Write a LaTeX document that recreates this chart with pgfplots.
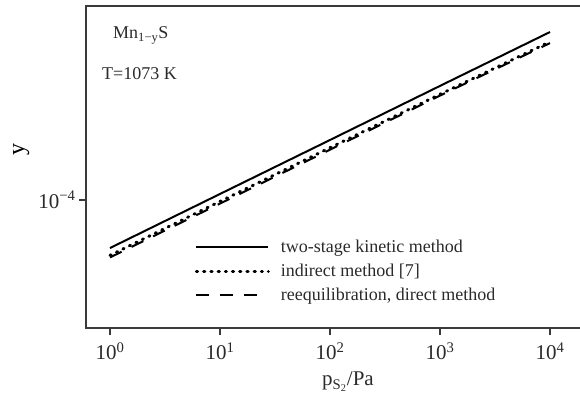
\documentclass[border=0pt]{standalone}
\usepackage{fontspec}
\setmainfont{Liberation Serif}
\usepackage{pgfplots}
\pgfplotsset{compat=1.18}

\definecolor{axisgray}{HTML}{3A3A3A}
\definecolor{textgray}{HTML}{2A2A2A}

\begin{document}
\begin{tikzpicture}
\useasboundingbox (0,0) rectangle (580pt,403pt);
\clip (0,0) rectangle (580pt,403pt);
\begin{axis}[
  at={(86pt,75pt)}, anchor=south west,
  scale only axis,
  width=499pt, height=322pt,
  xmode=log, ymode=log,
  xmin=0.605, xmax=20800,
  ymin=4.027e-5, ymax=3.97e-4,
  font=\fontsize{21}{25}\selectfont\color{textgray},
  axis line style={axisgray, line width=1.4pt},
  tick style={axisgray, line width=1.1pt, major tick length=7pt},
  tick align=outside, tick pos=left,
  minor tick num=0,
  xtick={1,10,100,1000,10000},
  xticklabels={10\textsuperscript{0},10\textsuperscript{1},10\textsuperscript{2},10\textsuperscript{3},10\textsuperscript{4}},
  ytick={1e-4},
  yticklabels={10\textsuperscript{−4}},
  xticklabel style={yshift=-4pt},
  xminorticks=false, yminorticks=false,
  xlabel={p\textsubscript{S\textsubscript{2}}/Pa},
  ylabel={y},
  xlabel style={at={(axis description cs:0.525,-0.18)}, anchor=base},
  ylabel style={at={(axis description cs:-0.130,0.553)}, anchor=center,
    font=\fontsize{24}{28}\selectfont},
  legend style={at={(axis description cs:0.218,0.28)}, anchor=north west,
    draw=none, fill=none, inner sep=0pt,
    font=\fontsize{18}{22}\selectfont,
    nodes={inner sep=2pt, anchor=west, text=textgray},
    row sep=6pt, column sep=9pt},
  legend cell align=left,
  legend image code/.code={\draw[#1] (0pt,0pt) -- (72pt,0pt);},
]
\addplot[black, line width=2pt] coordinates {
  (1,7.11e-5) (10,1.044e-4) (100,1.532e-4) (1000,2.25e-4) (10000,3.30e-4)};
\addlegendentry{two-stage kinetic method}
\addplot[black, line width=3pt, line cap=round, dash pattern=on 1.2pt off 6pt] coordinates {
  (1,6.75e-5) (10,9.9e-5) (100,1.45e-4) (1000,2.12e-4) (10000,3.08e-4)};
\addlegendentry{indirect method [7]}
\addplot[black, line width=2pt, dash pattern=on 13pt off 11pt] coordinates {
  (1,6.65e-5) (10,9.75e-5) (100,1.43e-4) (1000,2.10e-4) (10000,3.05e-4)};
\addlegendentry{reequilibration, direct method}
\end{axis}
\node[anchor=base west, inner sep=0pt, text=textgray, font=\fontsize{18}{22}\selectfont] at (113pt,364pt) {Mn\textsubscript{1−y}S};
\node[anchor=base west, inner sep=0pt, text=textgray, font=\fontsize{18}{22}\selectfont] at (102pt,323pt) {T=1073 K};
\end{tikzpicture}
\end{document}
